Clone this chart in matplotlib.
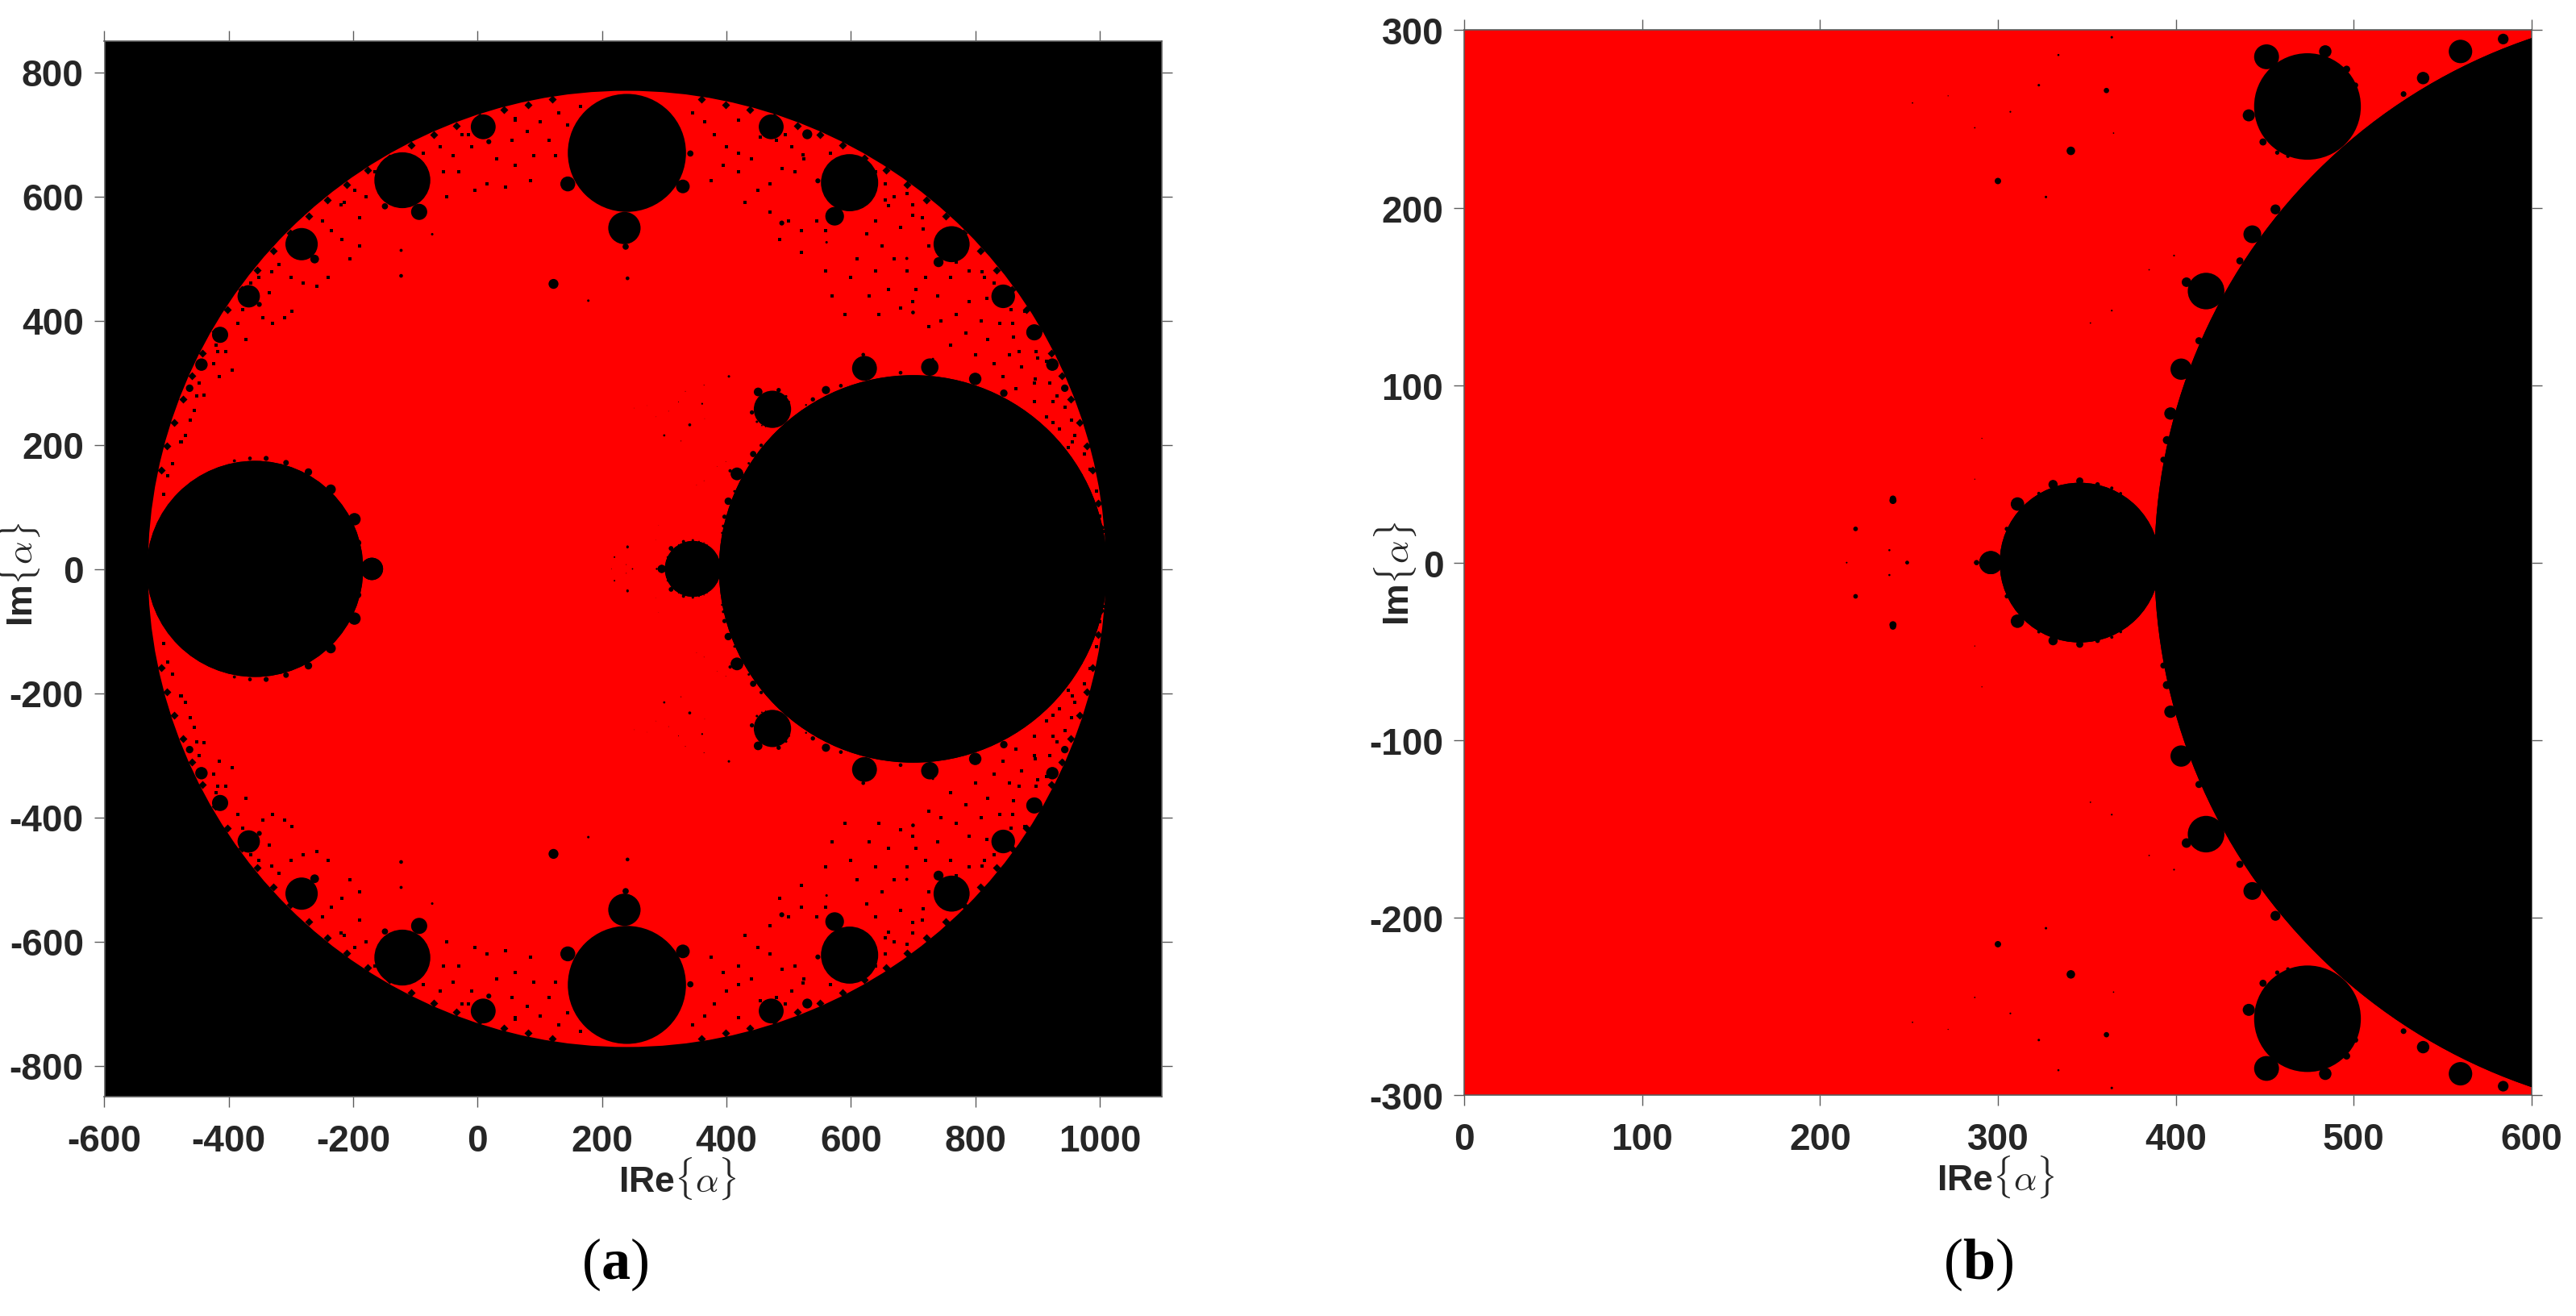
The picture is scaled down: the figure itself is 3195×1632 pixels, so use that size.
import matplotlib
matplotlib.use("Agg")
import matplotlib.pyplot as plt
from matplotlib.patches import Circle

W, H = 3195, 1633
plt.rcParams['font.family'] = ['Liberation Sans', 'DejaVu Sans']
plt.rcParams['mathtext.fontset'] = 'cm'
plt.rcParams['mathtext.rm'] = 'Liberation Serif'
plt.rcParams['mathtext.bf'] = 'Liberation Serif:bold'
plt.rcParams['axes.unicode_minus'] = False

# outer red region
region_x, region_y, region_r = 240, 0, 770

# black discs (upper half; the set is mirrored in Im=0)
disc_x = [700, -358, 240, 346, 474, -121, 598, -283, 762, -368, 845, -414, 895, -444, 924, -463, 944,
          9, 472, 236, 238, 145, 330, 342, -94, -149, 574, 547, -262, -351, 741, 18, 530,
          -170, -198, -236, -272, -308, -340, -366, -391, -192,
          622, 620, 727, 732, 800, 680, 846, 417, 406, 443, 403, 397, 395, 393, 456, 436, 413,
          560, 539, 584, 528, 451, 484, 441, 449, 496, 501, 457, 463,
          296, 288, 311, 331, 346, 356, 364, 369, 323, 305]
disc_y = [0, 0, 670, 0, 257, 626, 622, 523, 523, 439, 439, 377, 381, 329, 329, 291, 291,
          712, 712, 549, 519, 620, 616, 669, 575, 584, 568, 625, 499, 426, 494, 688, 700,
          0, 80, 128, 156, 171, 178, 178, 174, 42,
          323, 345, 325, 338, 306, 316, 283, 153, 158, 185, 109, 84, 69, 58, 199, 170, 125,
          288, 273, 295, 264, 285, 288, 252, 237, 278, 269, 231, 229,
          0, 0, 33, 44, 46, 44, 42, 39, 39, 19]
disc_r = [312, 174, 95, 45, 30, 45, 46, 26, 29, 18, 19, 13, 13, 10, 10, 6, 6,
          20, 20, 26, 5, 12, 11, 5, 13, 5, 15, 4, 7, 4, 8, 4, 8,
          18, 10, 8, 6, 4.5, 4, 3, 2.5, 5,
          20, 3, 14, 2, 10, 3, 6, 10.3, 2.7, 5, 6, 3.5, 2.3, 1.7, 2.8, 2, 2,
          6.6, 3.5, 3, 1.6, 7, 3.5, 3.4, 2, 2, 1.5, 1.2, 1,
          6.5, 1.4, 3.8, 2.6, 2, 1.3, 0.9, 0.8, 0.9, 1.2]

# isolated small islands in the red region
island_x = [122, 241, -123, -123, -73, 178, 241, 489, 561, 690, 700, 404,
            341, 300, 361, 323, 364, 334, 327, 307, 287, 365, 252, 272, 364, 399, 385, 352, 291, 287,
            241, 220, 249, 239, 215]
island_y = [459, 468, 472, 513, 539, 432, 35, 557, 526, 500, 413, 310,
            232, 215, 266, 269, 296, 286, 206, 254, 245, 242, 259, 263, 142, 173, 165, 135, 70, 47,
            36, 19, 0, 7, 0]
island_r = [8, 3, 3, 2.5, 2, 2, 2, 4, 2, 2.5, 3, 2,
            2.4, 1.8, 1.5, 0.7, 0.7, 0.6, 0.7, 0.5, 0.4, 0.4, 0.4, 0.3, 0.5, 0.5, 0.4, 0.4, 0.3, 0.3,
            1.8, 1.3, 1, 0.6, 0.4]

# black flecks of the frayed outer band, panel (a)
fleck_x = [-505, -490, -498, -470, -478, -455, -462, -440, -448, -425, -415, -405, -420, -395, -385, -372, -345,
           -330, -365, -352, -335, -310, -298, -320, -300, -280, -258, -240, -250, -235, -218, -190, -205, -190,
           -215, -198, -180, -165, -60, -40, -55, -25, -10, -30, -50, 60, 80, 55, 100, 115, 90, 130, 125, 60, 30,
           15, 45, 85, -5, 165, 145,
           345, 365, 380, 400, 420, 395, 375, 420, 440, 455, 480, 505, 525, 510, 490, 470, 450, 430, 470, 500,
           520, 545, 560, 485, 520, 640, 655, 670, 690, 660, 640, 625, 680, 700, 715, 650, 610, 640, 670, 690,
           660, 705, 725, 720, 740, 760, 745, 770, 790, 815, 790, 830, 785, 810, 820, 840, 860, 880, 800, 830,
           855, 870, 845, 875, 900, 915, 895, 920, 940, 865, 895, 925, 915, 945, 955, 935, 960, 975, 950, 985,
           970, 995, 985, 1000, 1005, 700, 725, 760, 680, 630, 600, 560, 570, 645, 590,
           974, 956, 931, 898, 858, 811, 758, 699, 635, 567, 495, 420, 60, -15, -87, -155, -219, -278, -331, -378,
           -418, -451, -476, 946, 925, 897, 861, 819, 770, 716, 656, 591, 523]
fleck_y = [120, 170, 150, 215, 205, 255, 240, 280, 300, 330, 310, 350, 360, 320, 395, 370, 405,
           395, 460, 470, 445, 405, 415, 490, 470, 460, 455, 470, 560, 545, 530, 565, 500, 520,
           590, 610, 600, 640, 680, 665, 640, 700, 680, 640, 600, 725, 705, 690, 720, 690, 665, 735, 665, 650, 660,
           620, 615, 625, 610, 745, 715,
           735, 720, 700, 680, 670, 650, 625, 640, 660, 695, 690, 680, 660, 640, 645, 620, 610, 590, 575, 560,
           545, 560, 545, 530, 510, 640, 620, 600, 605, 585, 560, 540, 550, 570, 565, 520, 500, 480, 500, 480,
           450, 450, 520, 470, 440, 470, 400, 410, 430, 470, 480, 460, 380, 400, 370, 395, 395, 415, 345, 330,
           345, 350, 310, 325, 340, 335, 300, 300, 310, 290, 270, 270, 245, 260, 240, 225, 215, 185, 195, 160,
           150, 125, 100, 85, 60, 430, 390, 360, 420, 440, 470, 480, 440, 410, 410,
           129, 205, 279, 350, 417, 479, 536, 587, 632, 670, 700, 723, 723, 700, 670, 632, 587, 536, 479, 417,
           350, 279, 205, 163, 236, 306, 373, 436, 494, 547, 594, 634, 667]

# larger bites on the outer rim, panel (a)
rim_x = [1002, 998, 988, 979, 968, 954, 939, 922, 902, 882, 859, 834, 808, 781, 752, 721, 690, 657, 622, 587,
         551, 514, 476, 438, 399, 360, 120, 81, 42, 4, -34, -71, -107, -142, -177, -210, -241, -272, -301, -328,
         -354, -379, -402, -422, -442, -459, -474, -488, -499, -508]
rim_y = [67, 106, 159, 198, 236, 274, 311, 347, 382, 417, 450, 481, 512, 541, 568, 594, 619, 642, 662, 682,
         699, 714, 728, 739, 748, 756, 756, 748, 739, 728, 714, 699, 682, 662, 642, 619, 594, 568, 541, 512,
         481, 450, 417, 382, 347, 311, 274, 236, 198, 159]

x_ticks_a = [-600, -400, -200, 0, 200, 400, 600, 800, 1000]
y_ticks_a = [-800, -600, -400, -200, 0, 200, 400, 600, 800]
x_ticks_b = [0, 100, 200, 300, 400, 500, 600]
y_ticks_b = [-300, -200, -100, 0, 100, 200, 300]

GREY = '#5c5c5c'
TXT = '#262626'


def make_ax(fig, l, t, r, b):
    return fig.add_axes([l / W, 1 - b / H, (r - l) / W, (b - t) / H])


def draw(ax, xlim, ylim, xt, yt, flecks):
    ax.set_facecolor('black')
    ax.add_patch(Circle((region_x, region_y), region_r, fc='#ff0000', ec='none', zorder=1))
    if flecks:
        for s in (1, -1):
            ax.scatter(fleck_x, [s * v for v in fleck_y], s=8, c='black', marker='s', linewidths=0, zorder=2)
            ax.scatter(rim_x, [s * v for v in rim_y], s=26, c='black', marker='D', linewidths=0, zorder=2)
    for xs, ys, rs in ((disc_x, disc_y, disc_r), (island_x, island_y, island_r)):
        for x, y, r in zip(xs, ys, rs):
            for s in (1, -1):
                ax.add_patch(Circle((x, s * y), r, fc='black', ec='none', zorder=3))
    ax.set_xlim(*xlim)
    ax.set_ylim(*ylim)
    ax.set_xticks(xt)
    ax.set_yticks(yt)
    ax.tick_params(axis='both', which='major', direction='out', length=9.5, width=1.0, color=GREY,
                   top=True, right=True, labelcolor=TXT, labelsize=33)
    ax.tick_params(axis='x', pad=14)
    ax.tick_params(axis='y', pad=9)
    for lab in ax.get_xticklabels() + ax.get_yticklabels():
        lab.set_fontweight('bold')
    for sp in ax.spines.values():
        sp.set_color(GREY)
        sp.set_linewidth(1.2)


fig = plt.figure(figsize=(W / 100, H / 100), dpi=100, facecolor='white')
ax_a = make_ax(fig, 129.5, 52, 1441, 1361)
ax_b = make_ax(fig, 1816, 38.4, 3140, 1359)
draw(ax_a, (-600, 1100), (-850, 850), x_ticks_a, y_ticks_a, True)
draw(ax_b, (0, 600), (-300, 300), x_ticks_b, y_ticks_b, False)


def label(px, py, s, **kw):
    fig.text(px / W, 1 - py / H, s, ha='center', va='center', color=TXT, **kw)


xl = r'IRe$\{\alpha\}$'
yl = r'Im$\{\alpha\}$'
label(840, 1462, xl, fontsize=32, fontweight='bold')
label(2475, 1460, xl, fontsize=32, fontweight='bold')
label(23, 712, yl, fontsize=32, fontweight='bold', rotation=90)
label(1730, 711, yl, fontsize=32, fontweight='bold', rotation=90)
fig.text(763 / W, 1 - 1568 / H, r'$\mathrm{(}\mathbf{a}\mathrm{)}$', ha='center', va='center',
         color='black', fontsize=52, math_fontfamily='custom')
fig.text(2454 / W, 1 - 1568 / H, r'$\mathrm{(}\mathbf{b}\mathrm{)}$', ha='center', va='center',
         color='black', fontsize=52, math_fontfamily='custom')

fig.savefig('out.png', dpi=100)
